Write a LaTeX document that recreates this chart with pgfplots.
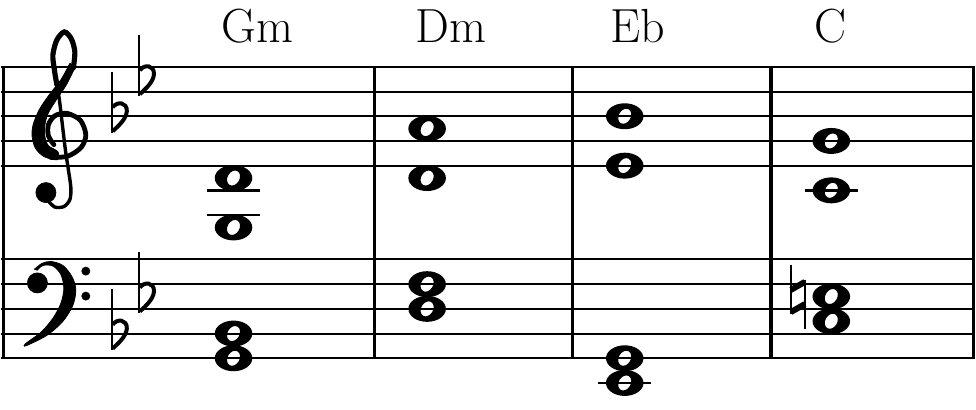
\documentclass[border=0pt]{standalone}
\usepackage{pgfplots}
\pgfplotsset{compat=1.18}

% whole note head: filled ellipse with a tilted hole
\pgfdeclareplotmark{whole}{%
  \pgfseteorule
  \pgfpathellipse{\pgfpointorigin}{\pgfqpoint{9.4pt}{0pt}}{\pgfqpoint{0pt}{6.5pt}}%
  \pgfpathellipse{\pgfpointorigin}{\pgfqpoint{2.0pt}{3.46pt}}{\pgfqpoint{-2.6pt}{1.5pt}}%
  \pgfusepathqfill}
\pgfdeclareplotmark{ledger}{%
  \pgfsetlinewidth{1.3pt}%
  \pgfpathmoveto{\pgfqpoint{-13.25pt}{0pt}}\pgfpathlineto{\pgfqpoint{13.25pt}{0pt}}%
  \pgfusepathqstroke}
\pgfdeclareplotmark{flat}{%
  \pgfsetlinewidth{1.1pt}%
  \pgfpathmoveto{\pgfqpoint{0pt}{22.3pt}}\pgfpathlineto{\pgfqpoint{0pt}{-8.3pt}}%
  \pgfusepathqstroke
  \pgfsetlinewidth{2pt}%
  \pgfpathmoveto{\pgfqpoint{0.3pt}{4.5pt}}%
  \pgfpathcurveto{\pgfqpoint{2.5pt}{7.6pt}}{\pgfqpoint{7.6pt}{7.2pt}}{\pgfqpoint{7.4pt}{2.5pt}}%
  \pgfpathcurveto{\pgfqpoint{7.1pt}{-1.5pt}}{\pgfqpoint{3pt}{-5pt}}{\pgfqpoint{0.3pt}{-7.5pt}}%
  \pgfusepathqstroke}
\pgfdeclareplotmark{natural}{%
  \pgfsetlinewidth{1.2pt}%
  \pgfpathmoveto{\pgfqpoint{0pt}{16pt}}\pgfpathlineto{\pgfqpoint{0pt}{-9pt}}%
  \pgfpathmoveto{\pgfqpoint{7pt}{8.5pt}}\pgfpathlineto{\pgfqpoint{7pt}{-16.5pt}}%
  \pgfusepathqstroke
  \pgfsetlinewidth{3pt}%
  \pgfpathmoveto{\pgfqpoint{0pt}{3.3pt}}\pgfpathlineto{\pgfqpoint{7pt}{7.3pt}}%
  \pgfpathmoveto{\pgfqpoint{0pt}{-7.8pt}}\pgfpathlineto{\pgfqpoint{7pt}{-3.8pt}}%
  \pgfusepathqstroke}

\begin{document}
\begin{tikzpicture}
\begin{axis}[
    hide axis, scale only axis,
    width=488pt, height=205pt,
    xmin=0, xmax=976, ymin=0, ymax=410,
    y dir=reverse, clip=false,
]
% page background
\addplot[fill=white, draw=none] coordinates {(0,0)(976,0)(976,410)(0,410)(0,0)};

% staff lines
\pgfplotsinvokeforeach{67,91.75,116.5,141.25,166,260,284.75,309.5,334.25,359}{
  \addplot[black, line width=1pt] coordinates {(0,#1)(976,#1)};
}
% bar lines
\addplot[black, line width=1.5pt] coordinates {(2.6,67)(2.6,359)};
\pgfplotsinvokeforeach{374.5,573,771.5,974.3}{
  \addplot[black, line width=1.6pt] coordinates {(#1,67)(#1,359)};
}

% treble clef
\addplot[fill=black, draw=black, line width=0.4pt, smooth] coordinates {
  (69.3,63)(60,80)(48.3,95)(38.3,110)(32.2,125)(31.2,136.7)(34.5,148.5)(43.3,157)(56.7,160)
  (57,152)(47.5,146)(44,137)(44,125)(47.5,113)(55.5,100)(65.5,85)(74,68)
};
\addplot[black, line width=2.4pt, smooth, line cap=round] coordinates {
  (50,157.8)(67,156.5)(80.5,147.5)(85,135)(79.5,120.5)(66,113.5)(54,116)(47.5,125)(47.5,136)(53,145)
};
\addplot[black, line width=2.6pt, smooth, line cap=round] coordinates {
  (72.5,68)(74,52)(70.5,39)(63.5,32)(56,40)(52,55)(53.5,70)(56,85)
};
\addplot[black, line width=1.7pt, smooth, line cap=round] coordinates {
  (56,85)(58.5,100)(61.5,125)(64.5,150)(67.5,170)(70,188)(69,200)(63,207)(54,207.5)(47,201)
};
\addplot[black, only marks, mark=*, mark size=5pt] coordinates {(45,193)};

% bass clef
\addplot[fill=black, draw=black, line width=0.4pt, smooth] coordinates {
  (33.3,270)(41,264)(50,262)(62,266)(71,277)(75,290)(72,306)(62,322)(46,336)(25,346.5)
  (25,344)(40,333)(52,319)(60,304)(63,289)(60,275)(52,266.5)(42,266)(36,271)
};
\addplot[black, only marks, mark=*, mark size=5pt] coordinates {(36.5,283.5)};
\addplot[black, only marks, mark=*, mark size=2pt] coordinates {(85,271.7)(85,296.7)};

% key signature (B flat, E flat)
\addplot[black, only marks, mark=flat] coordinates {
  (111.3,116.5)(138.5,79.4)(111.3,334.25)(138.5,297.1)
};

% ledger lines
\addplot[black, only marks, mark=ledger] coordinates {
  (233,190.75)(233,215.5)(832,190.75)(625,383.75)
};

% chords: treble
\addplot[black, only marks, mark=whole] coordinates {
  (233,178.4)(233,227.9)
  (427,128.9)(427,178.4)
  (625,116.5)(625,166)
  (832,141.25)(832,190.75)
};
% chords: bass
\addplot[black, only marks, mark=whole] coordinates {
  (233,334.25)(233,359)
  (427,284.75)(427,309.5)
  (625,359)(625,383.75)
  (832,297.1)(832,321.9)
};
\addplot[black, only marks, mark=natural] coordinates {(791.5,297.1)};

% chord names
\node[anchor=base, font=\fontsize{24}{28}\selectfont] at (axis cs:257,43) {Gm};
\node[anchor=base, font=\fontsize{24}{28}\selectfont] at (axis cs:451,43) {Dm};
\node[anchor=base, font=\fontsize{24}{28}\selectfont] at (axis cs:638,43) {Eb};
\node[anchor=base, font=\fontsize{24}{28}\selectfont] at (axis cs:831,43) {C};
\end{axis}
\end{tikzpicture}
\end{document}
